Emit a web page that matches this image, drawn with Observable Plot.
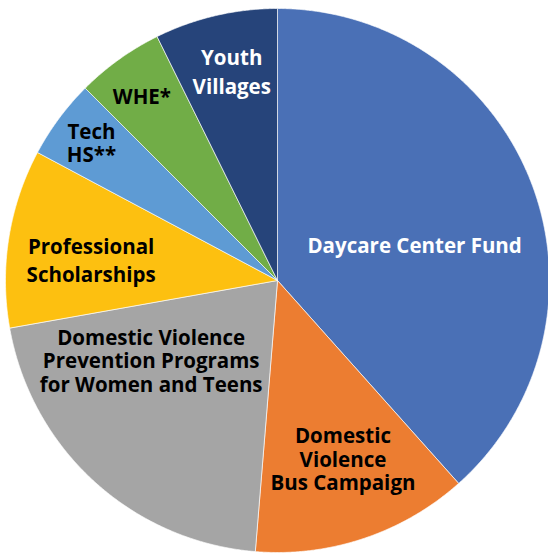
<!DOCTYPE html>
<html><head><meta charset="utf-8">
<script src="https://cdn.jsdelivr.net/npm/d3@7"></script>
<script src="https://cdn.jsdelivr.net/npm/@observablehq/plot@0.6"></script>
<style>html,body{margin:0;padding:0;background:#fff} #chart{width:548px;height:554px} text{font-variant-ligatures:none}</style>
</head><body><div id="chart"></div>
<script>
// ---- data ----
const categories = ["Daycare Center Fund", "Domestic Violence Bus Campaign", "Domestic Violence Prevention Programs for Women and Teens", "Professional Scholarships", "Tech HS**", "WHE*", "Youth Villages"];
const shares = [38.4, 12.9, 20.9, 10.6, 4.7, 5.2, 7.3];
const labels = ["Daycare Center Fund", "Domestic\nViolence\nBus Campaign", "Domestic Violence\nPrevention Programs\nfor Women and Teens", "Professional\nScholarships", "Tech\nHS**", "WHE*", "Youth\nVillages"];
// label placement: polar angle (deg, clockwise from top) and radius as fraction of pie radius
const labelAngle = [75.8, 159.9, 237.6, 276.7, 306.4, 323.6, 347.7];
const labelRadius = [0.52, 0.70, 0.55, 0.69, 0.85, 0.84, 0.79];

// ---- style ----
const colors = ["#4A70B6", "#EC7D31", "#A5A5A5", "#FDC010", "#5E9BD4", "#71AD47", "#26447A"];
const whiteLabels = new Set(["Daycare Center Fund", "Youth Villages"]);
const wideSpaced = new Set(["Professional Scholarships", "Youth Villages"]);
const W = 548, H = 554, cx = 277, cy = 280, R = 272;

const arcs = d3.pie().sort(null).value(d => d)(shares);
const slicePts = [];
arcs.forEach((a, i) => {
  const cat = categories[i];
  const n = Math.max(4, Math.ceil((a.endAngle - a.startAngle) / 0.005));
  slicePts.push({cat, x: 0, y: 0});
  for (let k = 0; k <= n; k++) {
    const t = a.startAngle + (a.endAngle - a.startAngle) * k / n;
    slicePts.push({cat, x: Math.sin(t), y: Math.cos(t)});
  }
  slicePts.push({cat, x: 0, y: 0});
});
const labelData = categories.map((c, i) => {
  const t = labelAngle[i] * Math.PI / 180;
  return {cat: c, text: labels[i], x: labelRadius[i] * Math.sin(t), y: labelRadius[i] * Math.cos(t),
          color: whiteLabels.has(c) ? "#ffffff" : "#000000"};
});
const textOpts = {x: "x", y: "y", text: "text", fill: d => d.color, fontSize: 20.5, fontWeight: 700, lineAnchor: "middle", fontFamily: "Open Sans"};

const chart = Plot.plot({
  width: W, height: H, margin: 0,
  x: {domain: [-cx / R, (W - cx) / R], axis: null},
  y: {domain: [-(H - cy) / R, cy / R], axis: null},
  color: {domain: categories, range: colors},
  style: {fontFamily: "Open Sans", background: "#fff"},
  marks: [
    Plot.line(slicePts, {x: "x", y: "y", z: "cat", fill: "cat", stroke: "#ffffff", strokeWidth: 0.8, strokeOpacity: 0.8}),
    Plot.text(labelData.filter(d => !wideSpaced.has(d.cat)), {...textOpts, lineHeight: 1.14}),
    Plot.text(labelData.filter(d => wideSpaced.has(d.cat)), {...textOpts, lineHeight: 1.38})
  ]
});
document.getElementById("chart").appendChild(chart);
</script></body></html>
